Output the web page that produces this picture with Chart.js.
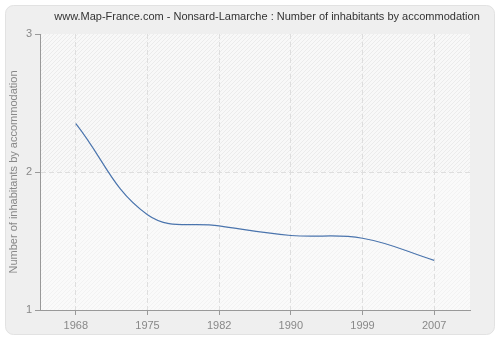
<!DOCTYPE html>
<html>
<head>
<meta charset="utf-8">
<script src="https://cdn.jsdelivr.net/npm/chart.js@4/dist/chart.umd.min.js"></script>
<style>
html,body{margin:0;padding:0;background:#fff;}
#wrap{width:500px;height:340px;position:relative;}
</style>
</head>
<body>
<div id="wrap"><canvas id="c" width="500" height="340"></canvas></div>
<script>
const titleText = "www.Map-France.com - Nonsard-Lamarche : Number of inhabitants by accommodation";
const yAxisTitle = "Number of inhabitants by accommodation";
const years = ["1968", "1975", "1982", "1990", "1999", "2007"];
const inhabitantsPerAccommodation = [2.35, 1.69, 1.61, 1.54, 1.52, 1.36];
const yTicks = [1, 2, 3];

const FONT = '"Liberation Sans", Arial, sans-serif';

function makeHatch(bg, line) {
  const n = 4;
  const p = document.createElement('canvas');
  p.width = n; p.height = n;
  const g = p.getContext('2d');
  g.fillStyle = bg; g.fillRect(0, 0, n, n);
  g.strokeStyle = line; g.lineWidth = 1;
  g.beginPath();
  g.moveTo(-1, n + 1); g.lineTo(n + 1, -1);
  g.stroke();
  return p;
}

const panelPlugin = {
  id: 'panel',
  beforeDraw(chart) {
    const ctx = chart.ctx;
    ctx.save();
    ctx.fillStyle = '#ffffff';
    ctx.fillRect(0, 0, chart.width, chart.height);
    ctx.beginPath();
    ctx.roundRect(5.5, 5.5, 489, 329, 8);
    ctx.fillStyle = '#efefef';
    ctx.fill();
    ctx.strokeStyle = '#e2e2e2';
    ctx.lineWidth = 1;
    ctx.stroke();
    const a = chart.chartArea;
    const y = chart.scales.y;
    const mid = y.getPixelForValue(2);
    const top = y.getPixelForValue(3);
    const bot = y.getPixelForValue(1);
    const pUp = ctx.createPattern(makeHatch('#f8f8f8', '#ebebeb'), 'repeat');
    const pLo = ctx.createPattern(makeHatch('#fafafa', '#f2f2f2'), 'repeat');
    ctx.fillStyle = pUp;
    ctx.fillRect(a.left, top, a.right - a.left, mid - top);
    ctx.fillStyle = pLo;
    ctx.fillRect(a.left, mid, a.right - a.left, bot - mid);
    // title
    ctx.fillStyle = '#333333';
    ctx.font = '11px ' + FONT;
    ctx.textAlign = 'center';
    ctx.textBaseline = 'middle';
    ctx.fillText(titleText, 267, 17);
    ctx.restore();
  }
};

new Chart(document.getElementById('c'), {
  type: 'line',
  data: {
    labels: years,
    datasets: [{
      data: inhabitantsPerAccommodation,
      borderColor: '#4a74ad',
      borderWidth: 1.2,
      pointRadius: 0,
      fill: false,
      tension: 0.4
    }]
  },
  options: {
    responsive: false,
    animation: false,
    devicePixelRatio: 1,
    layout: { padding: { left: 0, top: 34, right: 30, bottom: 0 } },
    plugins: { legend: { display: false }, title: { display: false }, tooltip: { enabled: false } },
    scales: {
      x: {
        offset: true,
        grid: {
          offset: false,
          color: '#dedede',
          tickColor: '#999999',
          tickLength: 5,
          tickBorderDash: []
        },
        border: { display: true, color: '#999999', width: 1, dash: [5, 3] },
        ticks: { color: '#888888', font: { family: FONT, size: 11 }, padding: 4 },
        afterFit(s) { s.height = 30; }
      },
      y: {
        min: 1, max: 3,
        afterBuildTicks(s) { s.ticks = yTicks.map(v => ({ value: v })); },
        grid: {
          color: (c) => (c.tick && c.tick.value === 2) ? '#dedede' : 'rgba(0,0,0,0)',
          tickColor: '#999999',
          tickLength: 5,
          tickBorderDash: []
        },
        border: { display: true, color: '#999999', width: 1, dash: [5, 3] },
        ticks: { color: '#888888', font: { family: FONT, size: 11 }, padding: 3 },
        title: {
          display: true,
          text: yAxisTitle,
          color: '#888888',
          font: { family: FONT, size: 11 },
          padding: { top: 7, bottom: 0 }
        },
        afterFit(s) { s.width = 40; }
      }
    }
  },
  plugins: [panelPlugin]
});
</script>
</body>
</html>
